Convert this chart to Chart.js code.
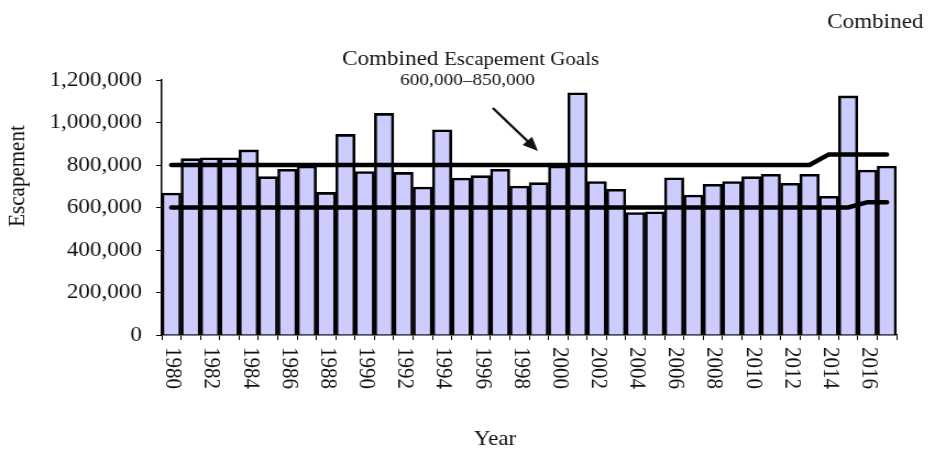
<!DOCTYPE html>
<html>
<head>
<meta charset="utf-8">
<script src="https://cdn.jsdelivr.net/npm/chart.js@4/dist/chart.umd.min.js"></script>
<style>
  html, body { margin: 0; padding: 0; background: #fff; overflow: hidden; }
  #wrap { width: 930px; height: 450px; }
  /* the reference image is stretched horizontally, so the canvas is too */
  #escChart { transform: scaleX(1.1); transform-origin: 0 0; }
</style>
</head>
<body>
<div id="wrap"><canvas id="escChart" width="845" height="450"></canvas></div>
<script>
const years = [
  '1980', '1981', '1982', '1983', '1984', '1985', '1986', '1987', '1988', '1989',
  '1990', '1991', '1992', '1993', '1994', '1995', '1996', '1997', '1998', '1999',
  '2000', '2001', '2002', '2003', '2004', '2005', '2006', '2007', '2008', '2009',
  '2010', '2011', '2012', '2013', '2014', '2015', '2016', '2017',
];
const escapement = [
  668000, 830000, 834000, 834000, 871000, 745000, 780000, 795000, 671000, 944000,
  769000, 1043000, 765000, 696000, 966000, 739000, 750000, 780000, 701000, 717000,
  795000, 1140000, 722000, 686000, 576000, 580000, 740000, 659000, 709000, 722000,
  745000, 756000, 714000, 756000, 653000, 1125000, 776000, 795000,
];
const upperGoal = [
  800000, 800000, 800000, 800000, 800000, 800000, 800000, 800000, 800000, 800000,
  800000, 800000, 800000, 800000, 800000, 800000, 800000, 800000, 800000, 800000,
  800000, 800000, 800000, 800000, 800000, 800000, 800000, 800000, 800000, 800000,
  800000, 800000, 800000, 800000, 850000, 850000, 850000, 850000,
];
const lowerGoal = [
  600000, 600000, 600000, 600000, 600000, 600000, 600000, 600000, 600000, 600000,
  600000, 600000, 600000, 600000, 600000, 600000, 600000, 600000, 600000, 600000,
  600000, 600000, 600000, 600000, 600000, 600000, 600000, 600000, 600000, 600000,
  600000, 600000, 600000, 600000, 600000, 600000, 625000, 625000,
];
const xTickYears = [
  '1980', '1982', '1984', '1986', '1988', '1990', '1992', '1994', '1996', '1998',
  '2000', '2002', '2004', '2006', '2008', '2010', '2012', '2014', '2016',
];
const yTickValues = [0, 200000, 400000, 600000, 800000, 1000000, 1200000];

const SERIF = '"Liberation Serif", "Times New Roman", serif';
const INK = '#111';

// rotated year labels (read top to bottom) plus the free text of the figure
const annotations = {
  id: 'annotations',
  afterDraw(chart) {
    const { ctx, scales: { x } } = chart;
    ctx.save();
    ctx.fillStyle = INK;
    ctx.font = `21px ${SERIF}`;
    ctx.textAlign = 'left';
    ctx.textBaseline = 'middle';
    xTickYears.forEach((yr) => {
      const px = x.getPixelForValue(years.indexOf(yr));
      ctx.save();
      ctx.translate(px + 1, x.top + 12);
      ctx.rotate(Math.PI / 2);
      ctx.fillText(yr, 0, 0);
      ctx.restore();
    });

    ctx.textBaseline = 'alphabetic';
    ctx.fillText('Combined', 752, 28);

    ctx.fillText('Combined', 311, 65);
    const w = ctx.measureText('Combined ').width;
    ctx.font = `19px ${SERIF}`;
    ctx.fillText('Escapement Goals', 311 + w, 65);

    ctx.font = `17.5px ${SERIF}`;
    ctx.textAlign = 'center';
    ctx.fillText('600,000\u2013850,000', 425, 85);

    ctx.font = `21px ${SERIF}`;
    ctx.fillText('Year', 450, 445);

    ctx.save();
    ctx.translate(16, 176);
    ctx.rotate(-Math.PI / 2);
    ctx.textBaseline = 'middle';
    ctx.fillText('Escapement', 0, 0);
    ctx.restore();

    // arrow
    const x1 = 448, y1 = 108, x2 = 489, y2 = 151;
    const ang = Math.atan2(y2 - y1, x2 - x1);
    ctx.strokeStyle = INK;
    ctx.lineWidth = 2.4;
    ctx.beginPath();
    ctx.moveTo(x1, y1);
    ctx.lineTo(x2 - 10 * Math.cos(ang), y2 - 10 * Math.sin(ang));
    ctx.stroke();
    ctx.beginPath();
    ctx.moveTo(x2, y2);
    ctx.lineTo(x2 - 14 * Math.cos(ang) + 6 * Math.sin(ang), y2 - 14 * Math.sin(ang) - 6 * Math.cos(ang));
    ctx.lineTo(x2 - 14 * Math.cos(ang) - 6 * Math.sin(ang), y2 - 14 * Math.sin(ang) + 6 * Math.cos(ang));
    ctx.closePath();
    ctx.fill();
    ctx.restore();
  },
};

new Chart(document.getElementById('escChart'), {
  type: 'bar',
  data: {
    labels: years,
    datasets: [
      {
        type: 'line',
        label: 'Upper goal',
        data: upperGoal,
        borderColor: '#000',
        borderWidth: 4.5,
        borderCapStyle: 'round',
        pointRadius: 0,
        tension: 0,
        order: 0,
      },
      {
        type: 'line',
        label: 'Lower goal',
        data: lowerGoal,
        borderColor: '#000',
        borderWidth: 4.5,
        borderCapStyle: 'round',
        pointRadius: 0,
        tension: 0,
        order: 0,
      },
      {
        label: 'Escapement',
        data: escapement,
        backgroundColor: '#ccccff',
        borderColor: '#000',
        borderWidth: 2.6,
        barPercentage: 1,
        categoryPercentage: 1,
        order: 1,
      },
    ],
  },
  options: {
    responsive: false,
    animation: false,
    layout: { padding: { top: 80, right: 30, bottom: 0, left: 0 } },
    plugins: { legend: { display: false }, tooltip: { enabled: false } },
    scales: {
      x: {
        offset: true,
        afterFit: (s) => { s.height = 115; },
        grid: { offset: true, drawOnChartArea: false, drawTicks: true, tickLength: 5, color: '#000' },
        border: { color: '#000', width: 1.5 },
        ticks: { display: false, autoSkip: false },
      },
      y: {
        min: 0,
        max: 1200000,
        afterFit: (s) => { s.width = 147; },
        afterBuildTicks: (s) => { s.ticks = yTickValues.map((v) => ({ value: v })); },
        grid: { drawOnChartArea: false, tickLength: 5, color: '#000' },
        border: { color: '#000', width: 1.5 },
        ticks: {
          padding: 13,
          color: INK,
          font: { family: SERIF, size: 21 },
          callback: (v) => v.toLocaleString('en-US'),
        },
      },
    },
  },
  plugins: [annotations],
});
</script>
</body>
</html>
